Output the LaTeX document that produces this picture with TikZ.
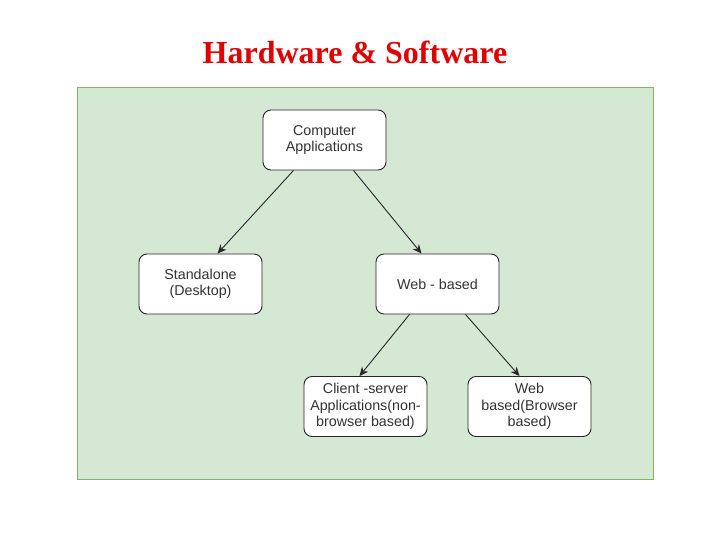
\documentclass[tikz,border=0pt]{standalone}
\usepackage{fontspec}
\setmainfont{Liberation Sans}
\newfontfamily\titlefont{Liberation Serif}
\usetikzlibrary{arrows.meta}
\definecolor{panelfill}{HTML}{D5E8D4}
\definecolor{panelline}{HTML}{82B366}
\definecolor{titlered}{HTML}{E00000}
\begin{document}
\begin{tikzpicture}[x=1bp,y=-1bp,
  box/.style={draw=black!85, line width=0.9bp, fill=white, rounded corners=8bp,
    minimum width=123bp, minimum height=60bp, inner sep=2bp, align=center,
    font=\fontsize{14.3bp}{16.5bp}\selectfont, text=black!80},
  conn/.style={draw=black!85, line width=0.9bp, -{Stealth[length=9bp,width=8bp]}}]
\useasboundingbox (0,0) rectangle (720,540);
\node[font=\titlefont\bfseries\fontsize{32bp}{35bp}\selectfont, text=titlered] (title) at (355,52) {Hardware \& Software};
\draw[fill=panelfill, draw=panelline, line width=1bp] (77,88) rectangle (653,479);
\node[box] (ca) at (324.5,140) {Computer\\Applications};
\node[box] (sa) at (200.5,284) {Standalone\\(Desktop)};
\node[box] (wb) at (437.5,284) {Web - based};
\node[box] (cs) at (365.5,406.5) {Client -server\\Applications(non-\\browser based)};
\node[box] (bb) at (529.5,406.5) {Web\\based(Browser\\based)};
\draw[conn] ([xshift=-31bp]ca.south) -- ([xshift=17bp]sa.north);
\draw[conn] ([xshift=29bp]ca.south) -- ([xshift=-16bp]wb.north);
\draw[conn] ([xshift=-28bp]wb.south) -- ([xshift=-6bp]cs.north);
\draw[conn] ([xshift=28bp]wb.south) -- ([xshift=-10bp]bb.north);
\end{tikzpicture}
\end{document}
